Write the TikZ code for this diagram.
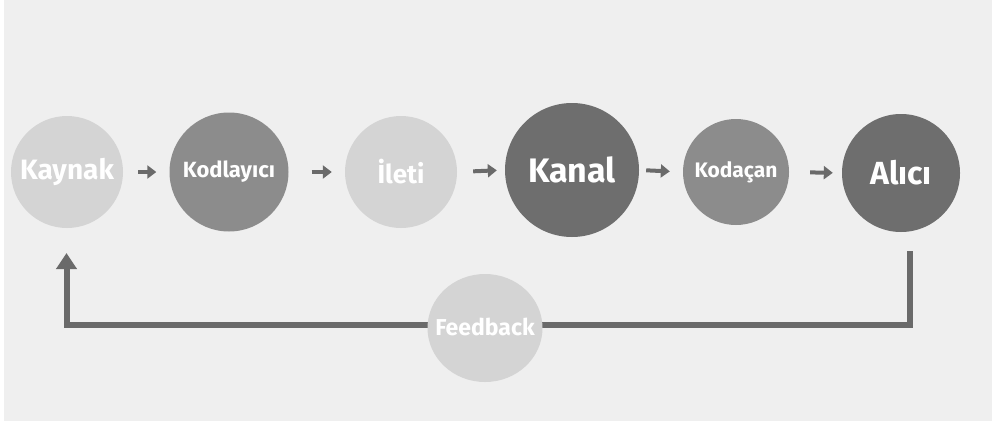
\documentclass[tikz,border=0pt]{standalone}
\usepackage{fontspec}
\setmainfont{Fira Sans}
\usetikzlibrary{arrows.meta,shapes.geometric}
\definecolor{bgc}{HTML}{EFEFEF}
\definecolor{lightc}{HTML}{D4D4D4}
\definecolor{midc}{HTML}{8C8C8C}
\definecolor{darkc}{HTML}{6E6E6E}
\definecolor{arrc}{HTML}{6A6A6A}
\tikzset{
  bubble/.style={circle,inner sep=0pt,text=white,font=\bfseries},
  smallarr/.style={draw=arrc,line width=4pt,-{Triangle[width=13pt,length=9pt]}},
  fbline/.style={draw=arrc,line width=6pt,-{Triangle[width=20pt,length=16pt]}}
}
\begin{document}
\begin{tikzpicture}[x=1pt,y=-1pt]
\fill[white] (0,0) rectangle (992,423);
\fill[bgc] (4,0) rectangle (992,421);
\useasboundingbox (0,0) rectangle (992,423);

\node[bubble,fill=lightc,minimum size=112pt,font=\bfseries\fontsize{28}{30}\selectfont] (kaynak) at (67,172) {Kaynak};
\node[bubble,fill=midc,minimum size=119pt,font=\bfseries\fontsize{22}{24}\selectfont] (kodlayici) at (229,172) {Kodlayıcı};
\node[bubble,fill=lightc,minimum size=112pt,font=\bfseries\fontsize{26}{28}\selectfont] (ileti) at (401,172) {İleti};
\node[bubble,fill=darkc,minimum size=134pt,font=\bfseries\fontsize{34}{36}\selectfont] (kanal) at (572,170) {Kanal};
\node[bubble,fill=midc,minimum size=106pt,font=\bfseries\fontsize{21}{23}\selectfont] (kodacan) at (736,172) {Kodaçan};
\node[bubble,fill=darkc,minimum size=118pt,font=\bfseries\fontsize{32}{34}\selectfont] (alici) at (901,173) {Alıcı};

\draw[smallarr,shorten <=15pt,shorten >=13pt] (kaynak.east) -- (kodlayici.west);
\draw[smallarr,shorten <=23pt,shorten >=13pt] (kodlayici.east) -- (ileti.west);
\draw[smallarr,shorten <=16pt,shorten >=8pt] (ileti.east) -- (kanal.west);
\draw[smallarr,shorten <=7pt,shorten >=13pt] (kanal.east) -- (kodacan.west);
\draw[smallarr,shorten <=21pt,shorten >=9pt] (kodacan.east) -- (alici.west);

\coordinate (fbR) at (909.5,251);
\coordinate (fbL) at (66.5,253);
\coordinate (fbM) at (485,325);
\draw[fbline] (fbR) |- (fbM) -| (fbL);

\fill[lightc] (485,328) ellipse [x radius=57.5pt, y radius=54pt];
\node[inner sep=0pt,text=white,font=\bfseries\fontsize{23}{25}\selectfont] (feedback) at (485,327) {Feedback};
\end{tikzpicture}
\end{document}
